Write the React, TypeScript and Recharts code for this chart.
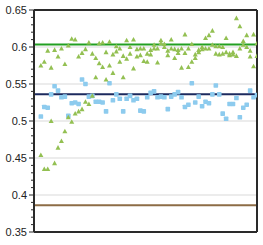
import React from 'react';
import { ScatterChart, Scatter, XAxis, YAxis, CartesianGrid, ReferenceLine } from 'recharts';

const greenA = [
  0.575, 0.580, 0.595, 0.572, 0.596, 0.587, 0.598, 0.577, 0.602, 0.611,
  0.610, 0.587, 0.592, 0.597, 0.606, 0.591, 0.585, 0.578, 0.573, 0.593,
  0.607, 0.565, 0.601, 0.598, 0.588, 0.609, 0.591, 0.610, 0.597, 0.589,
  0.581, 0.591, 0.596, 0.603, 0.579, 0.609, 0.604, 0.595, 0.610, 0.597,
  0.596, 0.598, 0.617, 0.598, 0.604, 0.590, 0.596, 0.597, 0.598, 0.616,
  0.622, 0.601, 0.601, 0.591, 0.612, 0.591, 0.590, 0.639, 0.628, 0.608,
  0.616, 0.595, 0.617, 0.588,
];

const greenB = [
  0.454, 0.435, 0.435, 0.500, 0.443, 0.464, 0.473, 0.486, 0.505, 0.499,
  0.510, 0.513, 0.516, 0.526, 0.523, 0.534, 0.559, 0.605, 0.606, 0.556,
  0.575, 0.590, 0.594, 0.580, 0.559, 0.584, 0.600, 0.571, 0.587, 0.598,
  0.598, 0.580, 0.590, 0.598, 0.598, 0.605, 0.600, 0.589, 0.598, 0.585,
  0.592, 0.572, 0.592, 0.573, 0.580, 0.585, 0.593, 0.600, 0.612, 0.598,
  0.603, 0.591, 0.590, 0.600, 0.593, 0.589, 0.593, 0.588, 0.598, 0.603,
  0.600, 0.587, 0.574, 0.605,
];

const blueVals = [
  0.506, 0.519, 0.518, 0.536, 0.547, 0.541, 0.532, 0.533, 0.507, 0.524,
  0.525, 0.523, 0.556, 0.550, 0.533, 0.534, 0.526, 0.526, 0.525, 0.513,
  0.551, 0.528, 0.536, 0.530, 0.513, 0.530, 0.534, 0.528, 0.530, 0.514,
  0.513, 0.532, 0.538, 0.540, 0.532, 0.533, 0.532, 0.516, 0.533, 0.536,
  0.539, 0.532, 0.519, 0.522, 0.551, 0.525, 0.533, 0.520, 0.526, 0.524,
  0.536, 0.548, 0.536, 0.510, 0.503, 0.523, 0.523, 0.531, 0.505, 0.518,
  0.522, 0.541, 0.532, 0.535,
];

const yTicks = [
  0.35, 0.36, 0.37, 0.38, 0.39, 0.4, 0.41, 0.42, 0.43, 0.44,
  0.45, 0.46, 0.47, 0.48, 0.49, 0.5, 0.51, 0.52, 0.53, 0.54,
  0.55, 0.56, 0.57, 0.58, 0.59, 0.6, 0.61, 0.62, 0.63, 0.64, 0.65,
];
const gridValues = [0.4, 0.45, 0.5, 0.55, 0.6];
const xDomain: [number, number] = [-2, 63];
const yDomain: [number, number] = [0.35, 0.65];
const refGreen = 0.6035;
const refNavy = 0.536;
const refBrown = 0.386;

const dataA = greenA.map((v, i) => ({ x: i, y: v }));
const dataB = greenB.map((v, i) => ({ x: i, y: v }));
const dataC = blueVals.map((v, i) => ({ x: i, y: v }));

const AXIS = '#2a2a2a';

const Tri = (props: any) => {
  const { cx, cy } = props;
  return (
    <polygon
      points={`${cx},${cy - 2.6} ${cx - 2.5},${cy + 2} ${cx + 2.5},${cy + 2}`}
      fill="#93c052"
    />
  );
};

const Sq = (props: any) => {
  const { cx, cy } = props;
  return <rect x={cx - 2.3} y={cy - 2.3} width={4.6} height={4.6} rx={0.7} fill="#8dcbee" />;
};

const YTick = (props: any) => {
  const { x, y, payload } = props;
  const v = payload.value;
  const major = Math.abs(v * 20 - Math.round(v * 20)) < 1e-6;
  if (!major) {
    return <line x1={x - 3} x2={x} y1={y} y2={y} stroke={AXIS} strokeWidth={1} />;
  }
  return (
    <g>
      <line x1={x - 5} x2={x} y1={y} y2={y} stroke={AXIS} strokeWidth={1} />
      <text
        x={x - 7}
        y={y}
        dy={4}
        textAnchor="end"
        fontSize={11}
        fontFamily="'Liberation Sans', Arial, sans-serif"
        fill="#222"
      >
        {String(Number(v.toFixed(2)))}
      </text>
    </g>
  );
};

export default function App() {
  return (
    <div style={{ position: 'absolute', left: 0, top: 0 }}>
      <ScatterChart width={263} height={245} margin={{ top: 10, right: 6, bottom: 0, left: 0 }}>
        <CartesianGrid
          vertical={false}
          horizontalValues={gridValues}
          stroke="#e6e6e6"
          strokeWidth={1.5}
        />
        <XAxis
          type="number"
          dataKey="x"
          domain={xDomain}
          allowDataOverflow
          tick={false}
          tickLine={false}
          height={13}
          axisLine={{ stroke: AXIS, strokeWidth: 2 }}
        />
        <YAxis
          type="number"
          dataKey="y"
          domain={yDomain}
          allowDataOverflow
          ticks={yTicks}
          interval={0}
          width={34}
          tickSize={0}
          tickMargin={0}
          tickLine={false}
          tick={<YTick />}
          axisLine={{ stroke: AXIS, strokeWidth: 2 }}
        />
        <ReferenceLine y={refBrown} stroke="#8d6c46" strokeWidth={2} />
        <ReferenceLine y={refNavy} stroke="#1c2a5e" strokeWidth={2} />
        <ReferenceLine y={refGreen} stroke="#22a022" strokeWidth={2} />
        <ReferenceLine y={yDomain[1]} stroke={AXIS} strokeWidth={2} />
        <ReferenceLine x={xDomain[1]} stroke={AXIS} strokeWidth={2} />
        <Scatter data={dataC} shape={<Sq />} isAnimationActive={false} />
        <Scatter data={dataB} shape={<Tri />} isAnimationActive={false} />
        <Scatter data={dataA} shape={<Tri />} isAnimationActive={false} />
      </ScatterChart>
    </div>
  );
}
